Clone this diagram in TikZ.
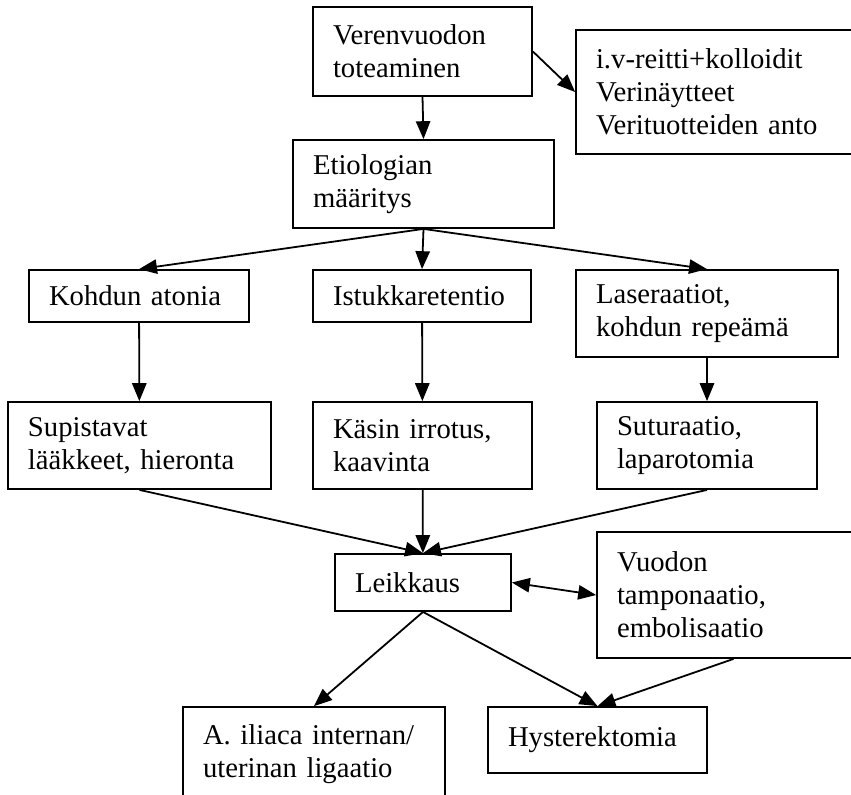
\documentclass[tikz,border=0pt]{standalone}
\usepackage{fontspec}
\setmainfont{Liberation Serif}
\usetikzlibrary{arrows.meta}
\newcommand{\pxu}{0.4184pt}
\tikzset{
hoitobox/.style 2 args={draw=black,line width=0.75pt,inner xsep=20*\pxu,inner ysep=0pt,
text width=(#1-40)*\pxu,minimum height=#2*\pxu,align=left,anchor=center},
flowarrow/.style={-{Triangle[length=7.5pt,width=6pt]},line width=0.75pt},
bothflow/.style={{Triangle[length=7.5pt,width=6pt]}-{Triangle[length=7.5pt,width=6pt]},line width=0.75pt}
}
\begin{document}
\begin{tikzpicture}[x=0.4184pt,y=-0.4184pt,every node/.style={font=\fontsize{12}{13.8}\selectfont}]
\useasboundingbox (0,0) rectangle (851,794);
\clip (0,0) rectangle (851,794);
\node[hoitobox={219}{89}] (a) at (422.5,51.5) {Verenvuodon\\toteaminen};
\node[hoitobox={294}{124}] (b) at (723,92) {i.v-reitti+kolloidit\\Verinäytteet\\Verituotteiden anto};
\node[hoitobox={261}{88}] (c) at (423.5,184) {Etiologian\\määritys};
\node[hoitobox={220}{52}] (d) at (139,296) {Kohdun atonia};
\node[hoitobox={218}{52}] (e) at (422,296) {Istukkaretentio};
\node[hoitobox={262}{87}] (f) at (707,313.5) {Laseraatiot,\\kohdun repeämä};
\node[hoitobox={263}{87}] (g) at (139.5,445.5) {Supistavat\\lääkkeet, hieronta};
\node[hoitobox={219}{87}] (h) at (422.5,445.5) {Käsin irrotus,\\kaavinta};
\node[hoitobox={220}{87}] (i) at (707,445.5) {Suturaatio,\\laparotomia};
\node[hoitobox={176}{57}] (j) at (423,582.5) {Leikkaus};
\node[hoitobox={273}{126}] (k) at (733.5,595) {Vuodon\\tamponaatio,\\embolisaatio};
\node[hoitobox={262}{94}] (l) at (314,754) {A. iliaca internan/\\uterinan ligaatio};
\node[hoitobox={219}{66}] (m) at (597.5,740) {Hysterektomia};
\draw[flowarrow] (a.south) -- (c.north);
\draw[flowarrow] (a.east) -- (b.west);
\draw[flowarrow] (c.south) -- (d.north);
\draw[flowarrow] (c.south) -- (e.north);
\draw[flowarrow] (c.south) -- (f.north);
\draw[flowarrow] (d) -- (g);
\draw[flowarrow] (e) -- (h);
\draw[flowarrow] (f) -- (i);
\draw[flowarrow] (g.south) -- (j.north);
\draw[flowarrow] (h) -- (j);
\draw[flowarrow] (i.south) -- (j.north);
\draw[bothflow] (j.east) -- (k.west);
\draw[flowarrow] (j.south) -- (l.north);
\draw[flowarrow] (j.south) -- (m.north);
\draw[flowarrow] (k.south) -- (m.north);
\end{tikzpicture}
\end{document}
